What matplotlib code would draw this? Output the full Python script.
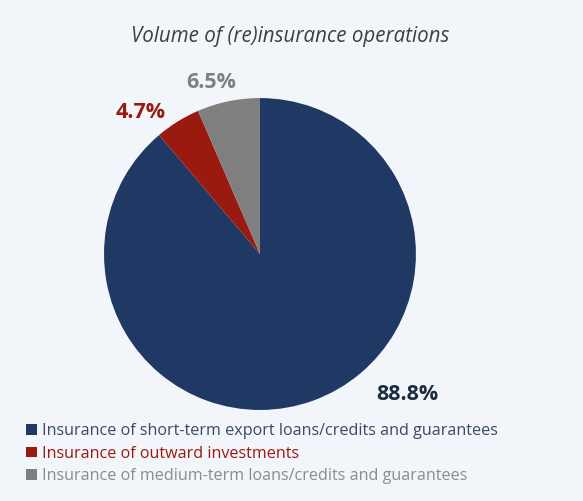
import matplotlib
matplotlib.use("Agg")
import matplotlib.pyplot as plt
from matplotlib.patches import Patch

title = "Volume of (re)insurance operations"
categories = [
    "Insurance of short-term export loans/credits and guarantees",
    "Insurance of outward investments",
    "Insurance of medium-term loans/credits and guarantees",
]
values = [88.8, 4.7, 6.5]
labels = ["88.8%", "4.7%", "6.5%"]

colors = ["#1f3864", "#9b1a10", "#7f7f7f"]
label_colors = ["#1b2a40", "#9b1a10", "#7f7f7f"]
legend_colors = ["#3a4a66", "#9b1a10", "#8c8c8c"]
bg = "#f2f5f9"

plt.rcParams['font.family'] = ['Open Sans', 'DejaVu Sans']

fig = plt.figure(figsize=(5.83, 5.01), dpi=100, facecolor=bg)
ax = fig.add_axes([0.1784, 0.1816, 0.535, 0.6228])
ax.set_facecolor(bg)
ax.pie(values, colors=colors, startangle=90, counterclock=False,
       wedgeprops=dict(linewidth=0))
ax.set_xlim(-1, 1)
ax.set_ylim(-1, 1)
ax.set_aspect('equal')
ax.axis('off')

label_pos = [(0.945, -0.90), (-0.765, 0.91), (-0.31, 1.10)]
for lab, (x, y), c in zip(labels, label_pos, label_colors):
    ax.text(x, y, lab, ha='center', va='center', fontsize=15.5,
            fontweight='bold', color=c, clip_on=False)

fig.text(0.497, 0.927, title, ha='center', va='center', fontsize=14.8,
         style='italic', color='#404040')

handles = [Patch(facecolor=c, edgecolor='none') for c in colors]
leg = fig.legend(handles, categories, loc='upper left',
                 bbox_to_anchor=(0.045, 0.156), frameon=False,
                 fontsize=11.6, handlelength=0.65, handleheight=0.65,
                 handletextpad=0.35, labelspacing=0.42, borderpad=0,
                 borderaxespad=0)
for t, c in zip(leg.get_texts(), legend_colors):
    t.set_color(c)

fig.savefig("out.png", dpi=100, facecolor=bg)
